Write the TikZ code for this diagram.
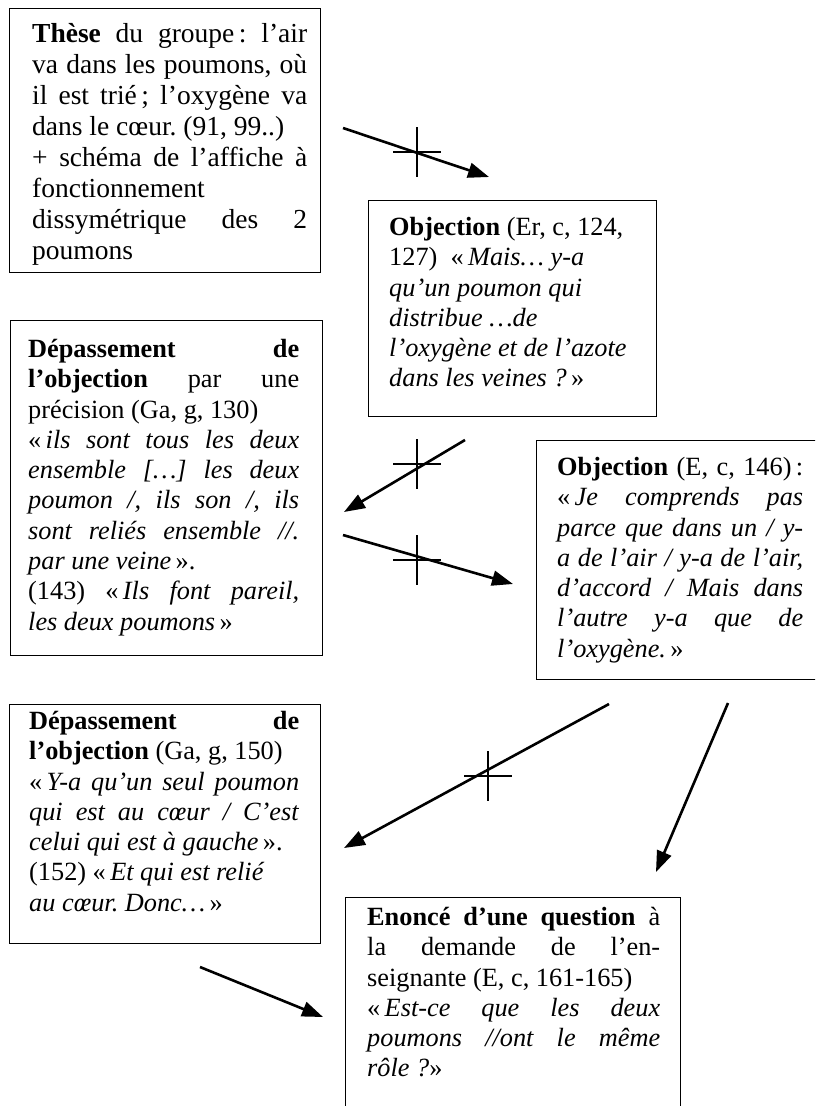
\documentclass[tikz,border=0pt]{standalone}
\usepackage{fontspec}
\setmainfont{Liberation Serif}
\usetikzlibrary{arrows.meta,positioning}
\setlength{\parindent}{0pt}
\frenchspacing
\newcommand{\croix}[1]{%
  \draw[line width=1.3pt] (#1) ++(0,-25) -- ++(0,50);
  \draw[line width=1.3pt] (#1) ++(-24,0) -- ++(48,0);
}

\begin{document}
\begin{tikzpicture}[x=1pt,y=-1pt,
  cadre/.style={draw, line width=1.4pt, inner sep=0pt, anchor=north west},
  texte/.style={inner sep=0pt, align=justify, font=\fontsize{26.3}{30.3}\selectfont},
  fleche/.style={line width=2.6pt, -{Triangle[length=21pt,width=15pt]}}]
  \useasboundingbox (0,0) rectangle (815,1106);
  \clip (0,0) rectangle (815,1106);

  \node[cadre, minimum width=311, minimum height=264] (these) at (9,8) {};
  \node[texte, text width=275, font=\fontsize{27.5}{31}\selectfont,
        below right=13pt and 23pt of these.north west] (these-t)
    {\strut\textbf{Thèse} du groupe\,: l’air\linebreak
     va dans les poumons, où\linebreak
     il est trié\,; l’oxygène va\linebreak
     dans le cœur. (91, 99..)\newline
     + schéma de l’affiche à\linebreak
     fonctionnement\newline
     dissymétrique des 2\linebreak
     poumons};

  \node[cadre, minimum width=288, minimum height=216] (obj1) at (368,200) {};
  \node[texte, text width=250, below right=14pt and 21pt of obj1.north west] (obj1-t)
    {\strut\textbf{Objection} (Er, c, 124,\newline
     127)~ «\,\textit{Mais… y-a}\newline
     \textit{qu’un poumon qui}\newline
     \textit{distribue …de}\newline
     \textit{l’oxygène et de l’azote}\newline
     \textit{dans les veines ?}\,»};

  \node[cadre, minimum width=312, minimum height=335] (dep1) at (10,320) {};
  \node[texte, text width=271, below right=16pt and 18pt of dep1.north west] (dep1-t)
    {\strut\textbf{Dépassement de}\linebreak
     \textbf{l’objection} par une\linebreak
     précision (Ga, g, 130)\newline
     «\,\textit{ils sont tous les deux}\linebreak
     \textit{ensemble […] les deux}\linebreak
     \textit{poumon /, ils son /, ils}\linebreak
     \textit{sont reliés ensemble //.}\linebreak
     \textit{par une veine}\,».\newline
     (143) «\,\textit{Ils font pareil,}\linebreak
     \textit{les deux poumons}\,»};

  \node[cadre, minimum width=290, minimum height=239] (obj2) at (536,440) {};
  \node[texte, text width=246, below right=14pt and 21pt of obj2.north west] (obj2-t)
    {\strut\textbf{Objection} (E, c, 146)\,:\linebreak
     «\,\textit{Je comprends pas}\linebreak
     \textit{parce que dans un / y-}\linebreak
     \textit{a de l’air / y-a de l’air,}\linebreak
     \textit{d’accord / Mais dans}\linebreak
     \textit{l’autre y-a que de}\linebreak
     \textit{l’oxygène.}\,»};

  \node[cadre, minimum width=311, minimum height=239] (dep2) at (9,704) {};
  \node[texte, text width=270, below right=4pt and 20pt of dep2.north west] (dep2-t)
    {\strut\textbf{Dépassement de}\linebreak
     \textbf{l’objection} (Ga, g, 150)\newline
     «\,\textit{Y-a qu’un seul poumon}\linebreak
     \textit{qui est au cœur / C’est}\linebreak
     \textit{celui qui est à gauche}\,».\newline
     (152) «\,\textit{Et qui est relié}\newline
     \textit{au cœur. Donc…}\,»};

  \node[cadre, minimum width=335, minimum height=230] (quest) at (345,897) {};
  \node[texte, text width=293, below right=7pt and 22pt of quest.north west] (quest-t)
    {\strut\textbf{Enoncé d’une question} à\linebreak
     la demande de l’en-\linebreak
     seignante (E, c, 161-165)\newline
     «\,\textit{Est-ce que les deux}\linebreak
     \textit{poumons //ont le même}\linebreak
     \textit{rôle ?}»};

  \coordinate (a1) at (343,128);  \coordinate (b1) at (489,177);
  \coordinate (a2) at (465,440);  \coordinate (b2) at (344,512);
  \coordinate (a3) at (343,535);  \coordinate (b3) at (513,584);
  \coordinate (a4) at (609,704);  \coordinate (b4) at (344,848);
  \coordinate (a5) at (728,703);  \coordinate (b5) at (656,872);
  \coordinate (a6) at (200,967);  \coordinate (b6) at (323,1017);

  \draw[fleche] (a1) -- (b1);
  \draw[fleche] (a2) -- (b2);
  \draw[fleche] (a3) -- (b3);
  \draw[fleche] (a4) -- (b4);
  \draw[fleche] (a5) -- (b5);
  \draw[fleche] (a6) -- (b6);

  \coordinate (x1) at (417,152);
  \coordinate (x2) at (417,464);
  \coordinate (x3) at (417,560);
  \coordinate (x4) at (488,776);
  \croix{x1}
  \croix{x2}
  \croix{x3}
  \croix{x4}
\end{tikzpicture}
\end{document}
